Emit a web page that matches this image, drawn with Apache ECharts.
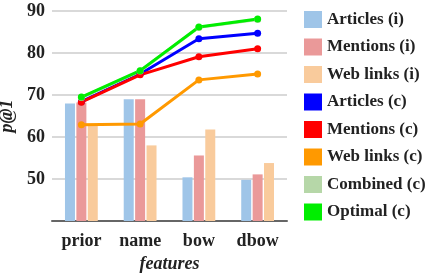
<!DOCTYPE html>
<html>
<head>
    <meta charset="utf-8">
    <title>p@1 by features</title>
    <script src="https://cdn.jsdelivr.net/npm/echarts@6/dist/echarts.min.js"></script>
</head>
<body style="margin:0">
<div id="main" style="width: 430px;height: 276px;"></div>
<script>
    // categories and values
    var features = ['prior', 'name', 'bow', 'dbow'];
    var yTicks = [40, 50, 60, 70, 80, 90];

    var articlesI = [68.0, 69.0, 50.4, 49.8];
    var mentionsI = [68.2, 69.0, 55.6, 51.1];
    var webLinksI = [63.0, 58.0, 61.8, 53.8];

    var articlesC = [68.4, 75.0, 83.4, 84.7];
    var mentionsC = [68.3, 74.8, 79.1, 81.0];
    var webLinksC = [62.9, 63.1, 73.6, 75.0];
    var combinedC = [69.4, 75.7, 86.1, 88.0];
    var optimalC  = [69.5, 75.8, 86.2, 88.1];

    var font = 'Liberation Serif';

    function bar(name, data, color) {
        return {
            name: name, type: 'bar', data: data,
            barWidth: 10, barGap: '14%',
            itemStyle: { color: color }
        };
    }
    function line(name, data, color) {
        return {
            name: name, type: 'line', data: data,
            symbol: 'circle', symbolSize: 7,
            lineStyle: { color: color, width: 3 },
            itemStyle: { color: color }
        };
    }

    var myChart = echarts.init(document.getElementById('main'));
    var option = {
        animation: false,
        textStyle: { fontFamily: font },
        grid: { left: 52, right: 143, top: 11, bottom: 55, outerBoundsMode: 'none' },
        legend: {
            orient: 'vertical',
            left: 299, top: 6,
            icon: 'rect',
            itemWidth: 18, itemHeight: 17, itemGap: 10.5,
            textStyle: { fontFamily: font, fontSize: 17, fontWeight: 'bold', color: '#222' }
        },
        xAxis: {
            type: 'category',
            data: features,
            name: 'features',
            nameLocation: 'middle',
            nameGap: 34,
            nameTextStyle: { fontFamily: font, fontSize: 18, fontWeight: 'bold', fontStyle: 'italic', color: '#222' },
            axisTick: { show: false },
            axisLine: { lineStyle: { color: '#666', width: 2 } },
            axisLabel: { fontFamily: font, fontSize: 18, fontWeight: 'bold', color: '#222', margin: 11 }
        },
        yAxis: {
            type: 'value',
            min: yTicks[0], max: yTicks[yTicks.length - 1], interval: 10,
            name: 'p@1',
            nameLocation: 'middle',
            nameGap: 35,
            nameTextStyle: { fontFamily: font, fontSize: 18, fontWeight: 'bold', fontStyle: 'italic', color: '#222' },
            axisLine: { show: false },
            axisTick: { show: false },
            splitLine: { lineStyle: { color: '#cccccc', width: 1.5 } },
            axisLabel: {
                fontFamily: font, fontSize: 18, fontWeight: 'bold', color: '#222', margin: 7,
                formatter: function (v) { return v === 40 ? '' : v; }
            }
        },
        series: [
            bar('Articles (i)', articlesI, '#9fc5e8'),
            bar('Mentions (i)', mentionsI, '#ea9999'),
            bar('Web links (i)', webLinksI, '#f9cb9c'),
            line('Articles (c)', articlesC, '#0000ff'),
            line('Mentions (c)', mentionsC, '#ff0000'),
            line('Web links (c)', webLinksC, '#ff9900'),
            line('Combined (c)', combinedC, '#b6d7a8'),
            line('Optimal (c)', optimalC, '#00ee00')
        ]
    };
    myChart.setOption(option);
</script>
</body>
</html>
